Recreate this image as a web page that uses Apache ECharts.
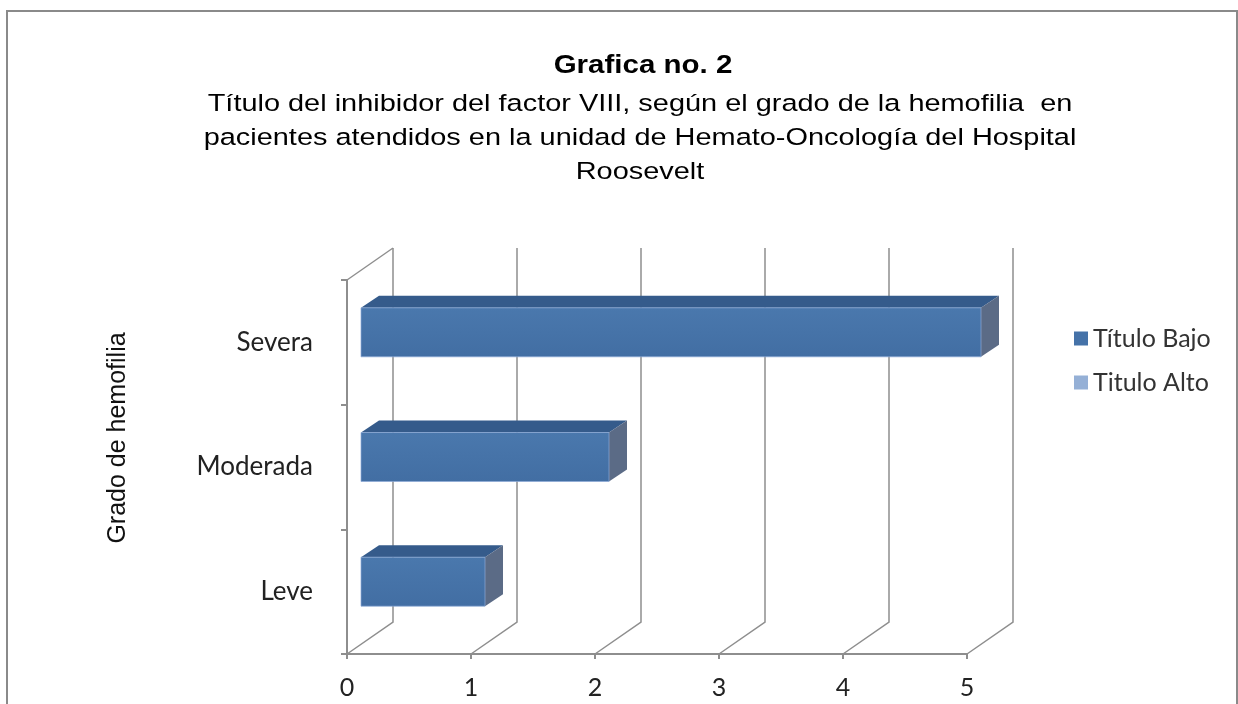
<!DOCTYPE html>
<html>
<head>
<meta charset="utf-8">
<script src="https://cdn.jsdelivr.net/npm/echarts@6/dist/echarts.min.js"></script>
<style>
  html, body { margin: 0; padding: 0; background: #fff; }
  #chart { width: 1238px; height: 704px; }
</style>
</head>
<body>
<div id="chart"></div>
<script>
var dom = document.getElementById('chart');
var myChart = echarts.init(dom, null, { renderer: 'canvas' });

// data
const categories = ['Leve', 'Moderada', 'Severa'];
const tituloBajo = [1, 2, 5];
const tituloAlto = [0, 0, 0];
const xTicks = [0, 1, 2, 3, 4, 5];

const titleText = 'Grafica no. 2';
const subText = 'Título del inhibidor del factor VIII, según el grado de la hemofilia  en\npacientes atendidos en la unidad de Hemato-Oncología del Hospital\nRoosevelt';

const gridColor = '#8e8e8e';
// depth of the fake 3d box (back wall offset) and of the bars
const DX = 46, DY = -32;
const BX = 14, BY = -10;
const BDX = 18, BDY = -12;
const BAR_H = 49;
// the source picture is stretched sideways a little
const STRETCH = 1.18;

function renderWalls(params, api) {
  const cs = params.coordSys;
  const v = api.value(0);
  const p = api.coord([v, 0])[0];
  const bottom = cs.y + cs.height;
  const top = cs.y;
  const children = [{
    type: 'polyline',
    shape: { points: [[p, bottom], [p + DX, bottom + DY], [p + DX, top + DY]] },
    style: { stroke: gridColor, lineWidth: 1.5, fill: null }
  }];
  if (v === 0) {
    children.push({
      type: 'line',
      shape: { x1: p, y1: top, x2: p + DX, y2: top + DY },
      style: { stroke: gridColor, lineWidth: 1.5 }
    });
  }
  return { type: 'group', children: children };
}

function barRenderer(front, topc, side) {
  return function (params, api) {
    const v = api.value(0);
    const c = api.value(1);
    if (!v) return null;
    const p0 = api.coord([0, c]);
    const p1 = api.coord([v, c]);
    const x0 = p0[0] + BX, x1 = p1[0] + BX;
    const cy = p0[1] + BY;
    const t = cy - BAR_H / 2, b = cy + BAR_H / 2;
    return {
      type: 'group',
      children: [
        {
          type: 'polygon',
          shape: { points: [[x0, t], [x0 + BDX, t + BDY], [x1 + BDX, t + BDY], [x1, t]] },
          style: { fill: topc }
        },
        {
          type: 'polygon',
          shape: { points: [[x1, t], [x1 + BDX, t + BDY], [x1 + BDX, b + BDY], [x1, b]] },
          style: { fill: side }
        },
        {
          type: 'rect',
          shape: { x: x0, y: t, width: x1 - x0, height: b - t },
          style: {
            fill: new echarts.graphic.LinearGradient(0, 0, 0, 1, [
              { offset: 0, color: front[0] },
              { offset: 1, color: front[1] }
            ]),
            stroke: 'rgba(140,170,215,0.7)',
            lineWidth: 1
          }
        }
      ]
    };
  };
}

var option = {
  backgroundColor: '#ffffff',
  animation: false,
  legend: {
    data: ['Título Bajo', 'Titulo Alto'],
    orient: 'vertical',
    left: 1069,
    top: 321,
    icon: 'rect',
    itemWidth: 14,
    itemHeight: 14,
    itemGap: 19,
    textStyle: { fontFamily: 'Lato', fontSize: 25, color: '#333' }
  },
  graphic: [
    {
      type: 'rect',
      shape: { x: 7, y: 11, width: 1230, height: 720 },
      style: { fill: null, stroke: '#8a8a8a', lineWidth: 2 },
      silent: true
    },
    {
      type: 'text',
      x: 643,
      y: 66,
      scaleX: STRETCH,
      style: {
        text: titleText,
        fontFamily: 'Liberation Sans',
        fontSize: 25,
        fontWeight: 'bold',
        fill: '#000',
        align: 'center',
        verticalAlign: 'middle'
      }
    },
    {
      type: 'text',
      x: 640,
      y: 138,
      scaleX: STRETCH,
      style: {
        text: subText,
        fontFamily: 'Liberation Sans',
        fontSize: 24.5,
        lineHeight: 34,
        fill: '#000',
        align: 'center',
        verticalAlign: 'middle'
      }
    },
    {
      type: 'text',
      x: 118,
      y: 438,
      rotation: Math.PI / 2,
      style: {
        text: 'Grado de hemofilia',
        fontFamily: 'Liberation Sans',
        fontSize: 25,
        fill: '#111',
        align: 'center',
        verticalAlign: 'middle'
      }
    }
  ],
  grid: {
    left: 347,
    right: 271,
    top: 280,
    bottom: 50
  },
  xAxis: {
    type: 'value',
    min: 0,
    max: 5,
    interval: 1,
    axisLine: { show: true, lineStyle: { color: gridColor, width: 2 } },
    axisTick: { show: true, length: 5, lineStyle: { color: gridColor, width: 2 } },
    splitLine: { show: false },
    axisLabel: { margin: 21, fontFamily: 'Lato', fontSize: 25, color: '#222' }
  },
  yAxis: {
    type: 'category',
    data: categories,
    axisLine: { show: true, lineStyle: { color: gridColor, width: 2 } },
    axisTick: { show: true, length: 6, lineStyle: { color: gridColor, width: 2 } },
    splitLine: { show: false },
    axisLabel: { margin: 34, fontFamily: 'Lato', fontSize: 26, color: '#222' }
  },
  series: [
    {
      name: 'walls',
      type: 'custom',
      z: 1,
      silent: true,
      renderItem: renderWalls,
      encode: { x: 0, y: 1 },
      data: xTicks.map(function (v) { return [v, 0]; })
    },
    {
      name: 'Título Bajo',
      type: 'custom',
      z: 3,
      itemStyle: { color: '#4572a8' },
      renderItem: barRenderer(['#4a78ad', '#426ea3'], '#355b8b', '#5b6b86'),
      encode: { x: 0, y: 1 },
      data: tituloBajo.map(function (v, i) { return [v, i]; })
    },
    {
      name: 'Titulo Alto',
      type: 'custom',
      z: 2,
      itemStyle: { color: '#95b0d6' },
      renderItem: barRenderer(['#a0bbe0', '#8faad2'], '#7f99c0', '#8c98ae'),
      encode: { x: 0, y: 1 },
      data: tituloAlto.map(function (v, i) { return [v, i]; })
    }
  ]
};

if (option && typeof option === 'object') {
  myChart.setOption(option);
}
window.addEventListener('resize', myChart.resize);
</script>
</body>
</html>
